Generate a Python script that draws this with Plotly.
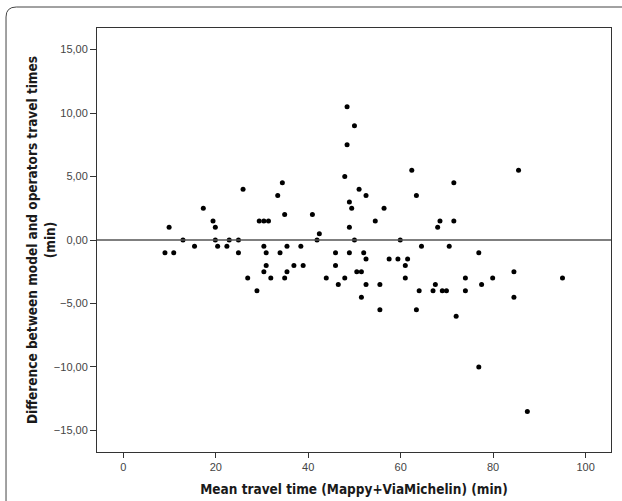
import plotly.graph_objects as go

mean_time = [9.0, 9.9, 10.9, 12.9, 15.4, 17.3, 19.4, 19.9, 19.9, 20.4, 22.4, 22.9, 24.9, 24.9, 25.9,
             26.9, 28.9, 29.4, 30.4, 31.4, 30.4, 30.4, 30.9, 30.9, 31.9, 33.4, 33.9, 34.4, 34.9, 34.9,
             35.4, 35.4, 36.9, 38.4, 38.9, 40.9, 41.9, 42.4, 43.9, 45.9, 45.9, 46.5, 47.9, 47.9, 48.4,
             48.4, 48.9, 48.9, 48.9, 49.4, 50.0, 50.0, 50.5, 51.0, 51.5, 51.5, 52.0, 52.5, 52.5, 52.5,
             54.5, 55.5, 55.5, 56.4, 57.5, 59.4, 59.9, 61.0, 61.0, 61.5, 62.4, 63.4, 63.4, 64.0, 64.5,
             67.0, 67.5, 68.0, 68.5, 69.0, 69.9, 70.5, 71.5, 71.5, 72.0, 74.0, 74.0, 76.9, 76.9, 77.5,
             79.9, 84.5, 84.5, 85.5, 87.4, 95.0]
difference = [-1.0, 1.0, -1.0, 0.0, -0.5, 2.5, 1.5, 1.0, 0.0, -0.5, -0.5, 0.0, 0.0, -1.0, 4.0,
              -3.0, -4.0, 1.5, 1.5, 1.5, -0.5, -2.5, -1.0, -2.0, -3.0, 3.5, -1.0, 4.5, 2.0, -3.0,
              -0.5, -2.5, -2.0, -0.5, -2.0, 2.0, 0.0, 0.5, -3.0, -1.0, -2.0, -3.5, 5.0, -3.0, 10.5,
              7.5, 3.0, 1.0, -1.0, 2.5, 9.0, 0.0, -2.5, 4.0, -2.5, -4.5, -1.0, 3.5, -1.5, -3.5,
              1.5, -3.5, -5.5, 2.5, -1.5, -1.5, 0.0, -2.0, -3.0, -1.5, 5.5, 3.5, -5.5, -4.0, -0.5,
              -4.0, -3.5, 1.0, 1.5, -4.0, -4.0, -0.5, 4.5, 1.5, -6.0, -3.0, -4.0, -1.0, -10.0, -3.5,
              -3.0, -2.5, -4.5, 5.5, -13.5, -3.0]

x_ticks = [0, 20, 40, 60, 80, 100]
y_ticks = [-15, -10, -5, 0, 5, 10, 15]
reference_value = 0

x_title = "<b>Mean travel time (Mappy+ViaMichelin) (min)</b>"
y_title = "<b>Difference between model and operators travel times</b><br><b>(min)</b>"

title_font = "DejaVu Sans Condensed, Liberation Sans, Arial, sans-serif"

fig = go.Figure()
fig.add_trace(go.Scatter(
    x=mean_time, y=difference, mode="markers",
    marker=dict(color="black", size=5),
    hoverinfo="x+y", showlegend=False,
))

fig.add_hline(y=reference_value, line=dict(color="#555555", width=1.6))

fig.update_layout(
    width=622, height=501,
    margin=dict(l=97, r=11, t=28, b=49),
    paper_bgcolor="white", plot_bgcolor="white",
    separators=",.",
    font=dict(family="Liberation Sans, Arial, sans-serif", color="#333333"),
    xaxis=dict(
        range=[-5.7, 105.5], tickvals=x_ticks, tickformat="d",
        ticks="outside", ticklen=5, tickcolor="#333333",
        showgrid=False, zeroline=False, automargin=False,
        showline=True, linecolor="#333333", linewidth=1, mirror=True,
        tickfont=dict(size=11, color="#444444"),
        title=dict(text=x_title, font=dict(family=title_font, size=13.5, color="#1a1a1a"), standoff=12),
    ),
    yaxis=dict(
        range=[-16.7, 16.7], tickvals=y_ticks, tickformat=".2f",
        ticks="outside", ticklen=6, tickcolor="#333333",
        showgrid=False, zeroline=False, automargin=False,
        showline=True, linecolor="#333333", linewidth=1, mirror=True,
        tickfont=dict(size=11, color="#444444"),
    ),
    annotations=[dict(
        text=y_title, textangle=-90, xref="paper", yref="paper",
        x=-0.109, y=0.5, xanchor="center", yanchor="middle", showarrow=False,
        font=dict(family=title_font, size=13.5, color="#1a1a1a"),
    )],
)

# rounded panel border around the figure (top-left corner)
fig.add_shape(
    type="path", xref="paper", yref="paper",
    path="M -0.177,-0.2 L -0.177,1.026 Q -0.177,1.0495 -0.157,1.0495 L 1.05,1.0495",
    line=dict(color="#444444", width=1),
)

fig.write_html(
    "out.html",
    config={"displayModeBar": False},
    post_script="document.body.style.margin='0';document.body.style.overflow='hidden';",
)
